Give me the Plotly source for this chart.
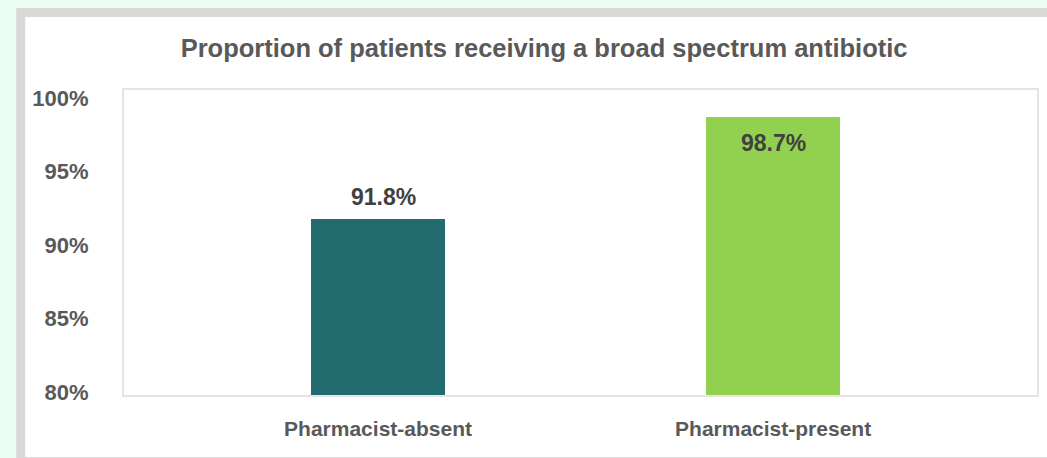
import plotly.graph_objects as go

categories = ["Pharmacist-absent", "Pharmacist-present"]
values = [91.8, 98.7]
bar_colors = ["#226c70", "#92d050"]
y_ticks = [80, 85, 90, 95, 100]
y_tick_labels = ["80%", "85%", "90%", "95%", "100%"]
title_text = "Proportion of patients receiving a broad spectrum antibiotic"

W, H = 1047, 458
L, R, T, B = 124, 8, 90, 63
pw, ph = W - L - R, H - T - B

def px(x):
    return (x - L) / pw

def py(y):
    return (H - B - y) / ph

FONT = "Liberation Sans, Arial, sans-serif"

fig = go.Figure()
fig.add_trace(go.Bar(
    x=list(range(len(categories))),
    y=values,
    width=0.341,
    marker=dict(color=bar_colors, line=dict(width=0)),
    hoverinfo="skip",
))

label_pos = ["bottom", "top"]
label_shift = [7, -11]
label_xshift = [5, 0]
for i, v in enumerate(values):
    fig.add_annotation(
        x=i, y=v, xref="x", yref="y",
        text=f"{v:.1f}%", showarrow=False,
        yanchor=label_pos[i], yshift=label_shift[i], xshift=label_xshift[i],
        font=dict(family=FONT, size=23, color="#404040", weight="bold"),
    )

# page frame: mint background, grey border on left/top, white card
fig.add_shape(type="rect", xref="paper", yref="paper",
              x0=px(16), x1=px(1060), y0=py(470), y1=py(8),
              fillcolor="#d9d9d9", line=dict(width=0), layer="below")
fig.add_shape(type="rect", xref="paper", yref="paper",
              x0=px(25), x1=px(1060), y0=py(457), y1=py(17),
              fillcolor="#ffffff", line=dict(width=0), layer="below")

fig.update_layout(
    width=W, height=H,
    margin=dict(l=L, r=R, t=T, b=B, pad=0),
    paper_bgcolor="#eafdf2",
    plot_bgcolor="#ffffff",
    showlegend=False,
    bargap=0,
    title=dict(
        text=title_text,
        x=px(545), xref="paper", xanchor="center",
        y=1 - 48 / H, yref="container", yanchor="middle",
        font=dict(family=FONT, size=25.5, color="#595959", weight="bold"),
    ),
    xaxis=dict(
        range=[-0.643, 1.668],
        tickvals=list(range(len(categories))),
        ticktext=categories,
        showgrid=False, zeroline=False, ticks="",
        showline=True, mirror=True, linecolor="#e4e4e4", linewidth=2,
        ticklabelstandoff=14,
        tickfont=dict(family=FONT, size=21, color="#595959", weight="bold"),
        fixedrange=True,
    ),
    yaxis=dict(
        range=[79.8, 100.54],
        tickvals=y_ticks,
        ticktext=y_tick_labels,
        showgrid=False, zeroline=False, ticks="",
        showline=True, mirror=True, linecolor="#e4e4e4", linewidth=2,
        ticklabelstandoff=29,
        tickfont=dict(family=FONT, size=22, color="#595959", weight="bold"),
        fixedrange=True,
    ),
)

fig.write_html("out.html")
